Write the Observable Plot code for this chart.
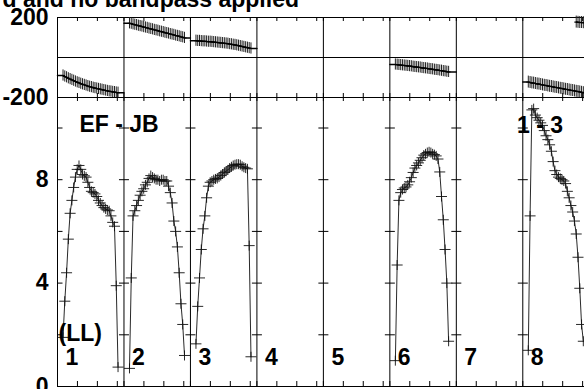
<!DOCTYPE html>
<html><head><meta charset="utf-8">
<script src="https://cdn.jsdelivr.net/npm/d3@7"></script>
<script src="https://cdn.jsdelivr.net/npm/@observablehq/plot@0.6"></script>
<style>
html,body{margin:0;padding:0;background:#fff;overflow:hidden;width:584px;height:389px;}
#wrap{position:relative;width:584px;height:389px;overflow:hidden;font-family:"Liberation Sans",Arial,sans-serif;}
#title{position:absolute;right:285px;top:-12px;font:bold 23px/23px "Liberation Sans",Arial,sans-serif;white-space:nowrap;color:#000;}
#top,#bottom{position:absolute;left:0;}
#top{top:0;}
#bottom{top:97px;}
svg{overflow:visible;}
</style></head><body>
<div id="wrap"><div id="title"></div><div id="top"></div><div id="bottom"></div></div>
<script>
// ---- text ----
const titleText = "d and no bandpass applied";
const baselineLabel = "EF - JB";
const stokesLabel = "(LL)";
const antennaLabel = "1 - 3";

// ---- axes ----
const ifNumbers = [1, 2, 3, 4, 5, 6, 7, 8];
const ampTickValues = [2, 4, 6, 8, 10];
const ampLabelValues = [0, 4, 8];
const phaseLabelValues = [200, -200];

// ---- amplitude per channel (IFs 4, 5, 7 flagged) ----
const ampIF1 = [1.9, 3.3, 4.4, 5.7, 6.7, 7.2, 7.7, 8.1, 8.4, 8.55, 8.4, 8.2, 8.15, 8.1, 7.9, 7.7, 7.55, 7.5, 7.45, 7.35, 7.2, 7.1, 7.0, 6.92, 6.87, 6.83, 6.8, 6.6, 6.35, 6.2, 3.9, 0.75];
const ampIF2 = [0.7, 4.2, 6.6, 6.8, 7.0, 7.2, 7.4, 7.55, 7.65, 7.8, 7.9, 8.05, 8.16, 8.1, 8.05, 8.0, 8.0, 7.95, 8.0, 8.0, 7.95, 7.95, 7.75, 7.5, 7.1, 6.4, 6.0, 5.4, 4.4, 3.2, 2.4, 1.2];
const ampIF3 = [1.65, 3.1, 4.2, 5.3, 6.1, 6.6, 7.3, 7.75, 7.9, 7.95, 8.0, 8.03, 8.05, 8.1, 8.16, 8.22, 8.28, 8.33, 8.38, 8.45, 8.5, 8.55, 8.58, 8.6, 8.6, 8.58, 8.52, 8.48, 8.45, 8.42, 5.45, 1.15];
const ampIF6 = [1.0, 4.7, 7.2, 7.5, 7.62, 7.68, 7.72, 7.8, 7.92, 8.08, 8.28, 8.45, 8.55, 8.65, 8.75, 8.85, 8.95, 9.0, 9.05, 9.08, 9.05, 9.0, 8.97, 8.92, 8.8, 8.3, 7.35, 6.45, 5.3, 4.0, 1.75];
const ampIF8 = [1.4, 6.6, 10.7, 10.75, 10.5, 10.4, 10.3, 10.2, 10.1, 9.9, 9.7, 9.55, 9.35, 9.1, 8.7, 8.35, 8.2, 8.1, 8.05, 8.0, 7.95, 7.85, 7.55, 7.3, 7.0, 6.75, 6.4, 5.9, 5.0, 3.8, 2.4, 1.75];

// ---- phase per channel (degrees) ----
const phaseIF1 = [-90, -95, -99, -104, -108, -112, -116, -120, -124, -127, -131, -134, -137, -140, -143, -146, -148, -151, -153, -155, -157, -159, -161, -163, -165, -167, -169, -170, -172, -173, -175, -176];
const phaseIF2 = [171, 169, 166, 164, 162, 159, 157, 155, 152, 150, 148, 145, 143, 141, 138, 136, 134, 131, 129, 127, 124, 122, 120, 117, 115, 113, 110, 108, 106, 103, 101, 98];
const phaseIF3 = [84, 83, 83, 82, 81, 81, 80, 79, 79, 78, 77, 76, 75, 74, 73, 72, 71, 70, 69, 67, 66, 64, 63, 61, 59, 57, 55, 53, 51, 49, 47, 45];
const phaseIF6 = [-35, -36, -37, -38, -39, -40, -41, -42, -43, -44, -46, -47, -48, -49, -50, -52, -53, -54, -55, -57, -58, -59, -61, -62, -63, -65, -66, -68, -69, -71, -72];
const phaseIF8 = [-123, -125, -127, -128, -130, -132, -133, -135, -137, -139, -140, -142, -144, -145, -147, -149, -150, -152, -154, -155, -157, -159, -160, -162, -164, -165, -167, -169, -170, -172, -174, -176];
const phaseIF8WrapChannels = [28, 29, 30, 31, 32];
const phaseIF8Wrap = [177, 176, 175, 175, 174];
const phaseErr = [28, 28, 28, 0, 0, 28, 0, 30];

document.getElementById("title").textContent = titleText;

// ---- layout ----
const W = 584;
const ML = 57;
const PANEL = 10;                 // x units per IF panel
const PANEL_PX = 66.47;
const XMAX = PANEL * (W - ML) / PANEL_PX;
const CH0 = 0.83, CHSTEP = 0.267; // channel placement inside a panel
const chanX = (k, j) => (k - 1) * PANEL + CH0 + j * CHSTEP;
const FONT = "'Liberation Sans', Arial, Helvetica, sans-serif";

const series = [[1, ampIF1, phaseIF1], [2, ampIF2, phaseIF2], [3, ampIF3, phaseIF3], [6, ampIF6, phaseIF6], [8, ampIF8, phaseIF8]];
const ampRows = series.flatMap(([k, a]) => a.map((v, j) => ({IF: k, x: chanX(k, j), v})));
const phaseRows = series.flatMap(([k, , p]) => p.map((v, j) => ({IF: k, x: chanX(k, j), v, e: phaseErr[k - 1]})));
const wrapRows = phaseIF8Wrap.map((v, i) => ({IF: 9, x: chanX(8, phaseIF8WrapChannels[i] - 1), v, e: phaseErr[7]}));
const phaseLineRows = series.flatMap(([k, , p]) => [
  {IF: k, x: (k - 1) * PANEL, v: p[0]},
  ...p.map((v, j) => ({IF: k, x: chanX(k, j), v})),
  {IF: k, x: k * PANEL, v: p[p.length - 1]}
]).concat([...wrapRows.map(d => ({IF: 9, x: d.x, v: d.v})), {IF: 9, x: 8 * PANEL, v: phaseIF8Wrap[phaseIF8Wrap.length - 1]}]);

const boundaries = d3.range(0, 8).map(k => k * PANEL);
const xTicks = d3.range(0, 8).flatMap(k => [0, 3, 6, 9].map(o => k * PANEL + o)).filter(x => x <= XMAX);

function crossSymbol(h, v) {
  return {draw(ctx) {
    if (h) { ctx.moveTo(-h, 0); ctx.lineTo(h, 0); }
    if (v) { ctx.moveTo(0, -v); ctx.lineTo(0, v); }
  }};
}
const rightTick = {draw(ctx) { ctx.moveTo(0, 0); ctx.lineTo(5, 0); }};

const textOpts = {fontSize: 23, fontWeight: "bold", fill: "black"};

// ---- top: phase ----
const TOP_H = 97, TOP_MT = 17;
const topPlot = Plot.plot({
  width: W, height: TOP_H,
  marginTop: TOP_MT, marginBottom: 0, marginLeft: ML, marginRight: 0,
  style: {fontFamily: FONT, background: "transparent", overflow: "visible"},
  x: {domain: [0, XMAX], axis: null},
  y: {domain: [-200, 200], axis: null},
  marks: [
    Plot.ruleY([200, 0, -200], {stroke: "black", strokeWidth: 1}),
    Plot.ruleX(boundaries, {stroke: "black", strokeWidth: 1}),
    Plot.ruleX(xTicks, {stroke: "black", insetBottom: TOP_H - TOP_MT - 4}),
    Plot.ruleX(xTicks, {stroke: "black", insetTop: TOP_H - TOP_MT - 4}),
    Plot.ruleX(phaseRows.concat(wrapRows), {x: "x", y1: d => d.v - d.e, y2: d => d.v + d.e, stroke: "#222", strokeWidth: 1}),
    Plot.line(phaseLineRows, {x: "x", y: "v", z: "IF", stroke: "black", strokeWidth: 1.5}),
    Plot.dot(phaseRows.concat(wrapRows), {x: "x", y: "v", symbol: crossSymbol(2, 0), fill: "none", stroke: "black", strokeWidth: 1}),
    Plot.text(phaseLabelValues, {y: d => d, text: d => String(d), frameAnchor: "left", dx: -9, textAnchor: "end", ...textOpts})
  ]
});
document.getElementById("top").append(topPlot);

// ---- bottom: amplitude ----
const BOT_H = 292, BOT_MB = 3;
const innerH = BOT_H - BOT_MB;
const AMP_TOP = innerH / 25.85;
const crossTicks = boundaries.filter(b => b > 0).flatMap(b => ampTickValues.map(t => ({x: b, y: t})));
const leftTicks = ampTickValues.map(t => ({x: 0, y: t}));
const botPlot = Plot.plot({
  width: W, height: BOT_H,
  marginTop: 0, marginBottom: BOT_MB, marginLeft: ML, marginRight: 0,
  style: {fontFamily: FONT, background: "transparent", overflow: "visible"},
  x: {domain: [0, XMAX], axis: null},
  y: {domain: [0, AMP_TOP], axis: null},
  marks: [
    Plot.ruleY([0, AMP_TOP], {stroke: "black", strokeWidth: 1}),
    Plot.ruleX(boundaries, {stroke: "black", strokeWidth: 1}),
    Plot.ruleX(xTicks, {stroke: "black", insetBottom: innerH - 4}),
    Plot.ruleX(xTicks, {stroke: "black", insetTop: innerH - 5}),
    Plot.dot(crossTicks, {x: "x", y: "y", symbol: crossSymbol(5, 0), fill: "none", stroke: "black", strokeWidth: 1}),
    Plot.dot(leftTicks, {x: "x", y: "y", symbol: rightTick, fill: "none", stroke: "black", strokeWidth: 1}),
    Plot.line(ampRows, {x: "x", y: "v", z: "IF", stroke: "#111", strokeWidth: 0.9}),
    Plot.dot(ampRows, {x: "x", y: "v", symbol: crossSymbol(5.5, 5), fill: "none", stroke: "#111", strokeWidth: 0.9}),
    Plot.text(ampLabelValues, {y: d => d, text: d => String(d), frameAnchor: "left", dx: -9, textAnchor: "end", ...textOpts}),
    Plot.text([baselineLabel], {text: d => d, frameAnchor: "top-left", dx: 22, dy: 34.7, textAnchor: "start", lineAnchor: "bottom", ...textOpts}),
    Plot.text([antennaLabel], {text: d => d, frameAnchor: "top-left", dx: 459.5, dy: 35, textAnchor: "start", lineAnchor: "bottom", ...textOpts}),
    Plot.text([stokesLabel], {text: d => d, frameAnchor: "top-left", dx: 1, dy: 243, textAnchor: "start", lineAnchor: "bottom", ...textOpts}),
    Plot.text(ifNumbers, {x: d => (d - 1) * PANEL, text: d => String(d), frameAnchor: "bottom", dx: 8, dy: -22, textAnchor: "start", lineAnchor: "bottom", ...textOpts})
  ]
});
document.getElementById("bottom").append(botPlot);
</script></body></html>
